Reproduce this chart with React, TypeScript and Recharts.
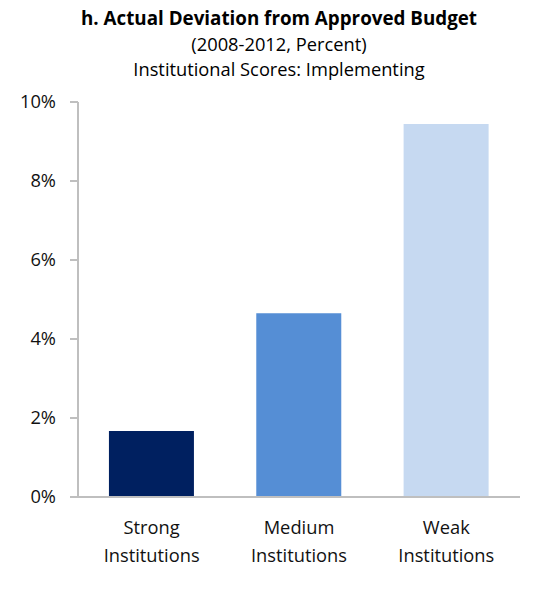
import { BarChart, Bar, XAxis, YAxis, Cell } from "recharts";

const categories = ["Strong Institutions", "Medium Institutions", "Weak Institutions"];
const deviation = [1.67, 4.65, 9.44];
const barColors = ["#002060", "#558ED5", "#C6D9F1"];
const yTicks = [0, 2, 4, 6, 8, 10];

const data = categories.map((name, i) => ({ name, value: deviation[i] }));

const FONT = "'Open Sans', 'Noto Sans', sans-serif";
const AXIS = "#BFBFBF";

function CategoryTick({ x, y, payload }: any) {
  const words = String(payload.value).split(" ");
  return (
    <text x={x} y={y} textAnchor="middle" fill="#111" fontSize={18.3} fontFamily={FONT}>
      {words.map((w: string, i: number) => (
        <tspan key={w} x={x} dy={i === 0 ? 29 : 28}>
          {w}
        </tspan>
      ))}
    </text>
  );
}

export default function App() {
  return (
    <div style={{ position: "absolute", left: 0, top: 0, width: 543, height: 589, background: "#fff", fontFamily: FONT }}>
      <div style={{ position: "absolute", left: 0, width: 558, top: 5, textAlign: "center", color: "#000" }}>
        <div style={{ fontWeight: "bold", fontSize: 18.8, lineHeight: "26px" }}>h. Actual Deviation from Approved Budget</div>
        <div style={{ fontSize: 18.3, lineHeight: "25px" }}>(2008-2012, Percent)</div>
        <div style={{ fontSize: 18.3, lineHeight: "25px" }}>Institutional Scores: Implementing</div>
      </div>
      <BarChart
        width={543}
        height={589}
        data={data}
        margin={{ top: 102, right: 23, left: 0, bottom: 0 }}
        barCategoryGap="21%"
      >
        <XAxis
          dataKey="name"
          axisLine={{ stroke: AXIS, strokeWidth: 2 }}
          tickLine={false}
          interval={0}
          height={92}
          tick={<CategoryTick />}
        />
        <YAxis
          width={78}
          domain={[0, 10]}
          ticks={yTicks}
          tickFormatter={(v: number) => `${v}%`}
          axisLine={{ stroke: AXIS, strokeWidth: 2 }}
          tickLine={{ stroke: AXIS, strokeWidth: 2 }}
          tickSize={8}
          tickMargin={14}
          tick={{ fill: "#111", fontSize: 18.3, fontFamily: FONT }}
        />
        <Bar dataKey="value" isAnimationActive={false}>
          {data.map((d, i) => (
            <Cell key={d.name} fill={barColors[i]} />
          ))}
        </Bar>
      </BarChart>
    </div>
  );
}
